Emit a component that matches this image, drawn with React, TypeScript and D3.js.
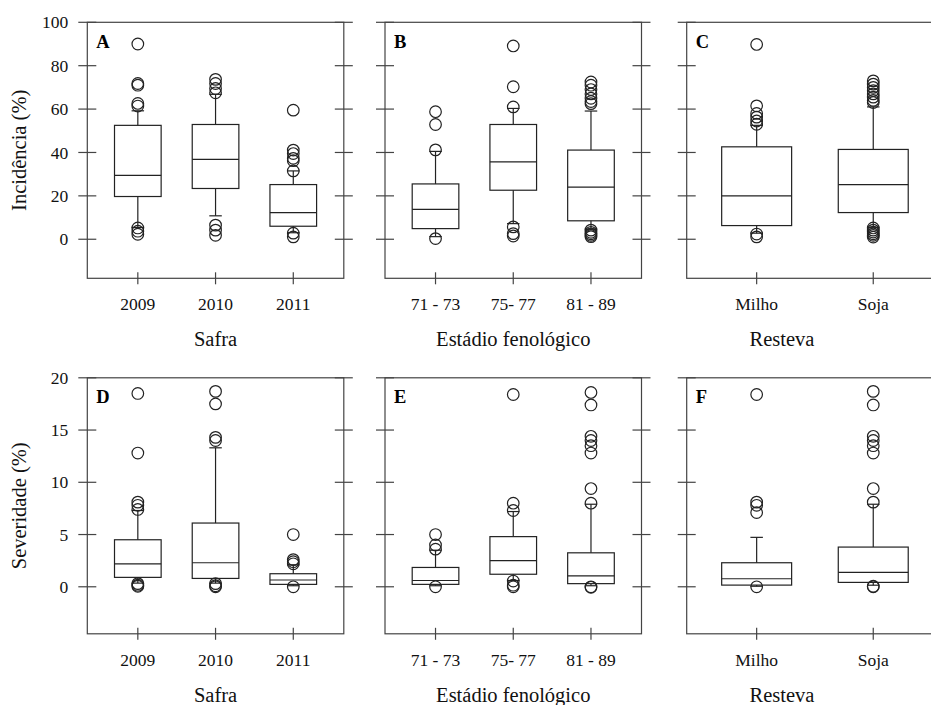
import React from "react";
import * as d3 from "d3";

// Category labels
const safraCategories = ["2009", "2010", "2011"];
const estadioCategories = ["71 - 73", "75- 77", "81 - 89"];
const restevaCategories = ["Milho", "Soja"];

// Axis ticks
const incidenciaTicks = [0, 20, 40, 60, 80, 100];
const severidadeTicks = [0, 5, 10, 15, 20];

// Box summaries: [lower whisker, Q1, median, Q3, upper whisker]
const incSafraBoxes = [
  [5.4, 19.7, 29.4, 52.5, 59.2],
  [10.8, 23.4, 36.8, 52.9, 66.8],
  [3.0, 6.0, 12.3, 25.2, 31.5],
];
const incSafraOutliers = [
  [90, 71.8, 71, 62.6, 61.4, 5.2, 3.7, 2.3],
  [73.7, 71.8, 69.5, 67.5, 6.5, 4.2, 1.8],
  [59.5, 41.1, 39.5, 37.3, 36.2, 31.5, 2.8, 1.1],
];

const incEstadioBoxes = [
  [1.2, 4.9, 13.8, 25.5, 40.5],
  [7.2, 22.6, 35.7, 52.9, 60.3],
  [4.6, 8.5, 24.0, 41.1, 59.1],
];
const incEstadioOutliers = [
  [58.8, 52.9, 41.2, 0.3],
  [89.1, 70.3, 61.0, 5.7, 2.6, 1.5],
  [72.5, 71.0, 69.0, 67.0, 65.0, 63.5, 62.5, 4.2, 3.2, 2.5, 1.8, 1.2],
];

const incRestevaBoxes = [
  [2.8, 6.3, 20.0, 42.6, 52.5],
  [5.5, 12.3, 25.2, 41.4, 61.0],
];
const incRestevaOutliers = [
  [89.8, 61.5, 58.0, 56.3, 54.5, 53.0, 2.4, 1.1],
  [73.0, 71.5, 70.0, 68.5, 67.0, 65.5, 64.0, 63.0, 5.2, 4.2, 3.3, 2.5, 1.8, 1.0],
];

const sevSafraBoxes = [
  [0.35, 0.9, 2.2, 4.5, 7.3],
  [0.35, 0.8, 2.3, 6.1, 13.3],
  [0.1, 0.23, 0.65, 1.25, 2.1],
];
const sevSafraOutliers = [
  [18.5, 12.8, 8.1, 7.8, 7.4, 0.3, 0.15, 0.05],
  [18.7, 17.5, 14.3, 14.0, 0.3, 0.1, 0.0],
  [5.0, 2.6, 2.4, 2.2, 0.0],
];

const sevEstadioBoxes = [
  [0.1, 0.23, 0.6, 1.85, 3.5],
  [0.6, 1.2, 2.5, 4.8, 7.2],
  [0.1, 0.3, 1.05, 3.25, 7.9],
];
const sevEstadioOutliers = [
  [5.0, 4.0, 3.6, 0.0],
  [18.4, 8.0, 7.3, 0.55, 0.15, 0.0],
  [18.6, 17.4, 14.4, 14.0, 13.5, 12.8, 9.4, 8.0, 0.0, -0.05],
];

const sevRestevaBoxes = [
  [0.05, 0.16, 0.77, 2.3, 4.73],
  [0.15, 0.42, 1.38, 3.8, 7.9],
];
const sevRestevaOutliers = [
  [18.4, 8.1, 7.8, 7.1, 0.0],
  [18.7, 17.4, 14.4, 14.0, 13.5, 12.8, 9.4, 8.1, 0.05, 0.0],
];

const FONT = "'Liberation Serif', 'Times New Roman', serif";
const AXIS = "#444";
const INK = "#222";

type PanelProps = {
  left: number;
  top: number;
  width: number;
  height: number;
  categories: string[];
  boxes: number[][];
  outliers: number[][];
  yDomain: [number, number];
  yTicks: number[];
  letter: string;
  tickLabels: boolean;
  yTitle?: string;
  xTitle: string;
  xTitleX?: number;
};

function Panel(p: PanelProps) {
  const n = p.categories.length;
  const pad = n === 3 ? 0.65 : 0.6;
  const x = d3
    .scaleLinear()
    .domain([1 - pad, n + pad])
    .range([p.left, p.left + p.width]);
  const y = d3
    .scaleLinear()
    .domain(p.yDomain)
    .range([p.top + p.height, p.top]);
  const step = x(2) - x(1);
  const boxW = step * 0.6;
  const capW = 12.5;
  const bottom = p.top + p.height;
  const right = p.left + p.width;
  const titleX = p.xTitleX ?? p.left + p.width / 2;

  return (
    <g>
      <rect
        x={p.left}
        y={p.top}
        width={p.width}
        height={p.height}
        fill="none"
        stroke={AXIS}
        strokeWidth={1.2}
      />
      {p.yTicks.map((t) => (
        <g key={"yt" + t}>
          <line x1={p.left - 9} x2={p.left + 9} y1={y(t)} y2={y(t)} stroke={AXIS} strokeWidth={1.2} />
          <line x1={right - 9} x2={right + 9} y1={y(t)} y2={y(t)} stroke={AXIS} strokeWidth={1.2} />
          {p.tickLabels && (
            <text
              x={p.left - 19}
              y={y(t)}
              dy="0.35em"
              textAnchor="end"
              fontSize={17.5}
              fontFamily={FONT}
              fill="#111"
            >
              {t}
            </text>
          )}
        </g>
      ))}
      {p.categories.map((c, i) => (
        <g key={"xt" + c}>
          <line x1={x(i + 1)} x2={x(i + 1)} y1={bottom - 6} y2={bottom + 6} stroke={AXIS} strokeWidth={1.2} />
          <text
            x={x(i + 1)}
            y={bottom + 32}
            textAnchor="middle"
            fontSize={17.5}
            fontFamily={FONT}
            fill="#111"
          >
            {c}
          </text>
        </g>
      ))}
      <text
        x={titleX}
        y={bottom + 68}
        textAnchor="middle"
        fontSize={20.5}
        fontFamily={FONT}
        fill="#111"
      >
        {p.xTitle}
      </text>
      {p.yTitle && (
        <text
          transform={`translate(${p.left - 61},${p.top + p.height / 2}) rotate(-90)`}
          textAnchor="middle"
          fontSize={20.5}
          fontFamily={FONT}
          fill="#111"
        >
          {p.yTitle}
        </text>
      )}
      <text
        x={p.left + 9}
        y={p.top + 25.5}
        fontSize={18.5}
        fontWeight="bold"
        fontFamily={FONT}
        fill="#000"
      >
        {p.letter}
      </text>
      {p.boxes.map((b, i) => {
        const cx = x(i + 1);
        const [lo, q1, med, q3, hi] = b;
        return (
          <g key={"box" + i} stroke={INK} strokeWidth={1.2} fill="none">
            <line x1={cx} x2={cx} y1={y(q3)} y2={y(hi)} />
            <line x1={cx} x2={cx} y1={y(q1)} y2={y(lo)} />
            <line x1={cx - capW / 2} x2={cx + capW / 2} y1={y(hi)} y2={y(hi)} />
            <line x1={cx - capW / 2} x2={cx + capW / 2} y1={y(lo)} y2={y(lo)} />
            <rect x={cx - boxW / 2} y={y(q3)} width={boxW} height={y(q1) - y(q3)} />
            <line x1={cx - boxW / 2} x2={cx + boxW / 2} y1={y(med)} y2={y(med)} />
            {p.outliers[i].map((v, j) => (
              <circle key={j} cx={cx} cy={y(v)} r={5.8} />
            ))}
          </g>
        );
      })}
    </g>
  );
}

export default function App() {
  const lefts = [87.3, 385, 686.7];
  const tops = [22.3, 377.8];
  const pw = 256.5;
  const ph = 256;
  const incDomain: [number, number] = [-18, 100];
  const sevDomain: [number, number] = [-4.5, 20];
  return (
    <svg
      width={931}
      height={705}
      style={{ position: "absolute", left: 0, top: 0, background: "#fff" }}
    >
      <rect width={931} height={705} fill="#fff" />
      <Panel left={lefts[0]} top={tops[0]} width={pw} height={ph} categories={safraCategories}
        boxes={incSafraBoxes} outliers={incSafraOutliers} yDomain={incDomain} yTicks={incidenciaTicks}
        letter="A" tickLabels yTitle="Incidência (%)" xTitle="Safra" />
      <Panel left={lefts[1]} top={tops[0]} width={pw} height={ph} categories={estadioCategories}
        boxes={incEstadioBoxes} outliers={incEstadioOutliers} yDomain={incDomain} yTicks={incidenciaTicks}
        letter="B" tickLabels={false} xTitle="Estádio fenológico" />
      <Panel left={lefts[2]} top={tops[0]} width={pw} height={ph} categories={restevaCategories}
        boxes={incRestevaBoxes} outliers={incRestevaOutliers} yDomain={incDomain} yTicks={incidenciaTicks}
        letter="C" tickLabels={false} xTitle="Resteva" xTitleX={782} />
      <Panel left={lefts[0]} top={tops[1]} width={pw} height={ph} categories={safraCategories}
        boxes={sevSafraBoxes} outliers={sevSafraOutliers} yDomain={sevDomain} yTicks={severidadeTicks}
        letter="D" tickLabels yTitle="Severidade (%)" xTitle="Safra" />
      <Panel left={lefts[1]} top={tops[1]} width={pw} height={ph} categories={estadioCategories}
        boxes={sevEstadioBoxes} outliers={sevEstadioOutliers} yDomain={sevDomain} yTicks={severidadeTicks}
        letter="E" tickLabels={false} xTitle="Estádio fenológico" />
      <Panel left={lefts[2]} top={tops[1]} width={pw} height={ph} categories={restevaCategories}
        boxes={sevRestevaBoxes} outliers={sevRestevaOutliers} yDomain={sevDomain} yTicks={severidadeTicks}
        letter="F" tickLabels={false} xTitle="Resteva" xTitleX={782} />
    </svg>
  );
}
